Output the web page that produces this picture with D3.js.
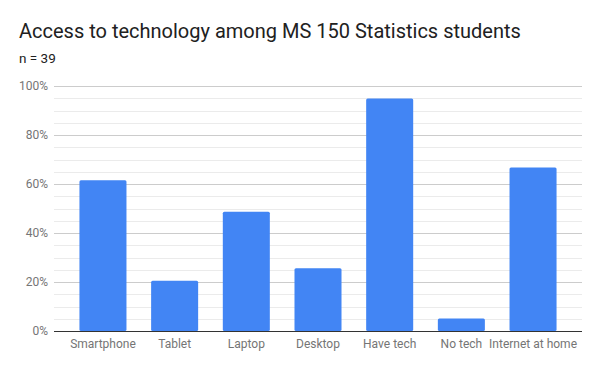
<!DOCTYPE html>
<html>
<head>
<meta charset="utf-8">
<script src="https://cdn.jsdelivr.net/npm/d3@7"></script>
<style>
  body { margin: 0; background: #fff; }
  svg { display: block; font-family: Roboto, sans-serif; }
</style>
</head>
<body>
<svg></svg>
<script>
// Data (share of n = 39 students)
const categories = ["Smartphone", "Tablet", "Laptop", "Desktop", "Have tech", "No tech", "Internet at home"];
const shares = [0.615, 0.205, 0.487, 0.256, 0.949, 0.051, 0.667];
const yTicks = [0, 0.2, 0.4, 0.6, 0.8, 1.0];

const width = 600, height = 371;
const plot = { left: 54, right: 582, top: 86, bottom: 331 };

const svg = d3.select("svg").attr("width", width).attr("height", height);

// Title and subtitle
svg.append("text")
  .attr("x", 19).attr("y", 37.5)
  .attr("font-size", 20).attr("fill", "#212121")
  .text("Access to technology among MS 150 Statistics students");
svg.append("text")
  .attr("x", 19).attr("y", 62.5)
  .attr("font-size", 13.5).attr("fill", "#212121")
  .text("n = 39");

const x = d3.scaleBand()
  .domain(categories)
  .range([plot.left, plot.right])
  .paddingInner(0.344)
  .paddingOuter(0.355);

const y = d3.scaleLinear().domain([0, 1]).range([plot.bottom, plot.top]);

// Minor gridlines every 5%
svg.append("g")
  .selectAll("line")
  .data(d3.range(0, 1.0001, 0.05).filter((d, i) => i % 4 !== 0))
  .enter().append("line")
  .attr("x1", plot.left).attr("x2", plot.right)
  .attr("y1", d => Math.round(y(d)) + 0.5).attr("y2", d => Math.round(y(d)) + 0.5)
  .attr("stroke", "#ebebeb");

// Major gridlines + labels
const yAxis = svg.append("g")
  .attr("transform", `translate(${plot.left},0)`)
  .call(d3.axisLeft(y).tickValues(yTicks).tickFormat(d3.format(".0%")).tickSize(-(plot.right - plot.left)).tickPadding(6));
yAxis.select(".domain").remove();
yAxis.selectAll(".tick line").attr("stroke", "#cccccc");
yAxis.selectAll(".tick").attr("transform", d => `translate(0,${Math.round(y(d)) + 0.5})`);
yAxis.selectAll("text")
  .attr("fill", "#757575").attr("font-size", 12).attr("font-family", "Roboto, sans-serif");

// Bars
svg.append("g")
  .selectAll("rect")
  .data(categories)
  .enter().append("rect")
  .attr("x", d => x(d))
  .attr("y", (d, i) => y(shares[i]))
  .attr("width", x.bandwidth())
  .attr("height", (d, i) => plot.bottom - y(shares[i]))
  .attr("rx", 1.5)
  .attr("fill", "#4285f4");

// Baseline
svg.append("line")
  .attr("x1", plot.left).attr("x2", plot.right)
  .attr("y1", plot.bottom + 0.5).attr("y2", plot.bottom + 0.5)
  .attr("stroke", "#333333");

// Category labels
const xAxis = svg.append("g")
  .attr("transform", `translate(0,${plot.bottom})`)
  .call(d3.axisBottom(x).tickSize(0).tickPadding(8));
xAxis.select(".domain").remove();
xAxis.selectAll("text")
  .attr("fill", "#757575").attr("font-size", 12).attr("font-family", "Roboto, sans-serif");
</script>
</body>
</html>
